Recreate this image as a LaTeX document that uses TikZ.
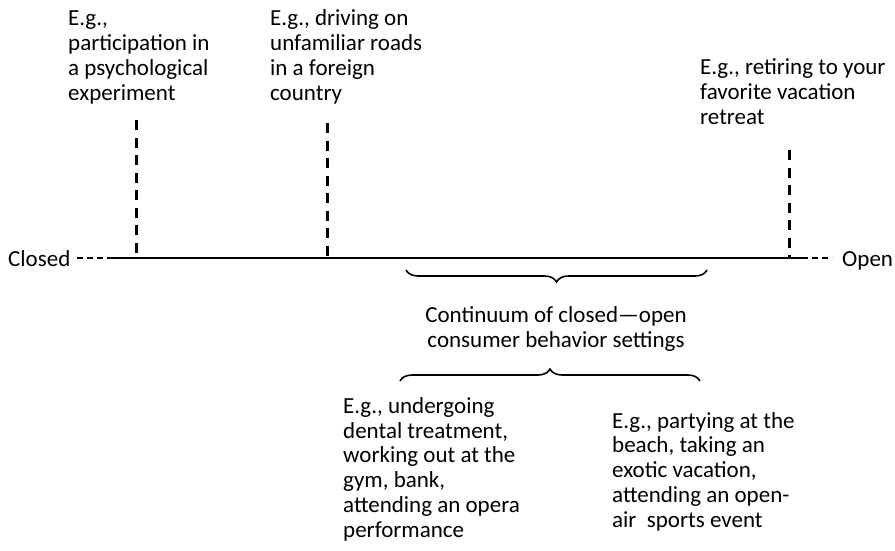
\documentclass[tikz,border=0pt]{standalone}
\usepackage{fontspec}
\setmainfont{Carlito}
\usetikzlibrary{decorations.pathreplacing}
\begin{document}
\begin{tikzpicture}[x=1pt,y=-1pt,
  % multi-line labels: the base anchor sits on the last line
  lbl/.style={inner sep=0pt,anchor=base west,align=left,
    font=\fontsize{23}{24.7}\selectfont},
  axis/.style={line width=2.6pt},
  axisend/.style={line width=2.2pt,dash pattern=on 6pt off 4pt},
  marker/.style={line width=3pt,dash pattern=on 10pt off 7.5pt},
  bracket/.style={line width=1.6pt,decorate,
    decoration={brace,amplitude=12pt}}]
\useasboundingbox (0,0) rectangle (895,550);

% axis of the continuum
\node[lbl] (closed) at (8,266) {Closed};
\node[lbl] (open) at (842,266) {Open};
\coordinate (dl) at (77,258);
\coordinate (axL) at (108,258);
\coordinate (axR) at (802,258);
\coordinate (dr) at (832,258);
\draw[axisend] (dl) -- (axL);
\draw[axis] (axL) -- (axR);
\draw[axisend] (axR) -- (dr);

% example settings above the axis
\node[lbl] (exA) at (68,100) {E.g.,\\participation in\\a psychological\\experiment};
\node[lbl] (exB) at (270,100) {E.g., driving on\\unfamiliar roads\\in a foreign\\country};
\node[lbl] (exC) at (700,124) {E.g., retiring to your\\favorite vacation\\retreat};

% dashed markers on the axis
\coordinate (t1) at (136,120); \coordinate (f1) at (136,258);
\coordinate (t2) at (327,123); \coordinate (f2) at (327,258);
\coordinate (t3) at (789,150); \coordinate (f3) at (789,258);
\draw[marker] (t1) -- (f1);
\draw[marker] (t2) -- (f2);
\draw[marker] (t3) -- (f3);

% braces and the central caption
\coordinate (b1l) at (406,270); \coordinate (b1r) at (707,270);
\draw[bracket] (b1r) -- (b1l);
\node[inner sep=0pt,anchor=base,align=center,
  font=\fontsize{23}{25}\selectfont] (cont) at (556,347)
  {Continuum of closed---open\\consumer behavior settings};
\coordinate (b2l) at (400,381); \coordinate (b2r) at (700,381);
\draw[bracket] (b2l) -- (b2r);

% example settings below
\node[lbl] (exD) at (343,537) {E.g., undergoing\\dental treatment,\\working out at the\\gym, bank,\\attending an opera\\performance};
\node[lbl] (exE) at (612,527) {E.g., partying at the\\beach, taking an\\exotic vacation,\\attending an open-\\air\ \ sports event};
\end{tikzpicture}
\end{document}
